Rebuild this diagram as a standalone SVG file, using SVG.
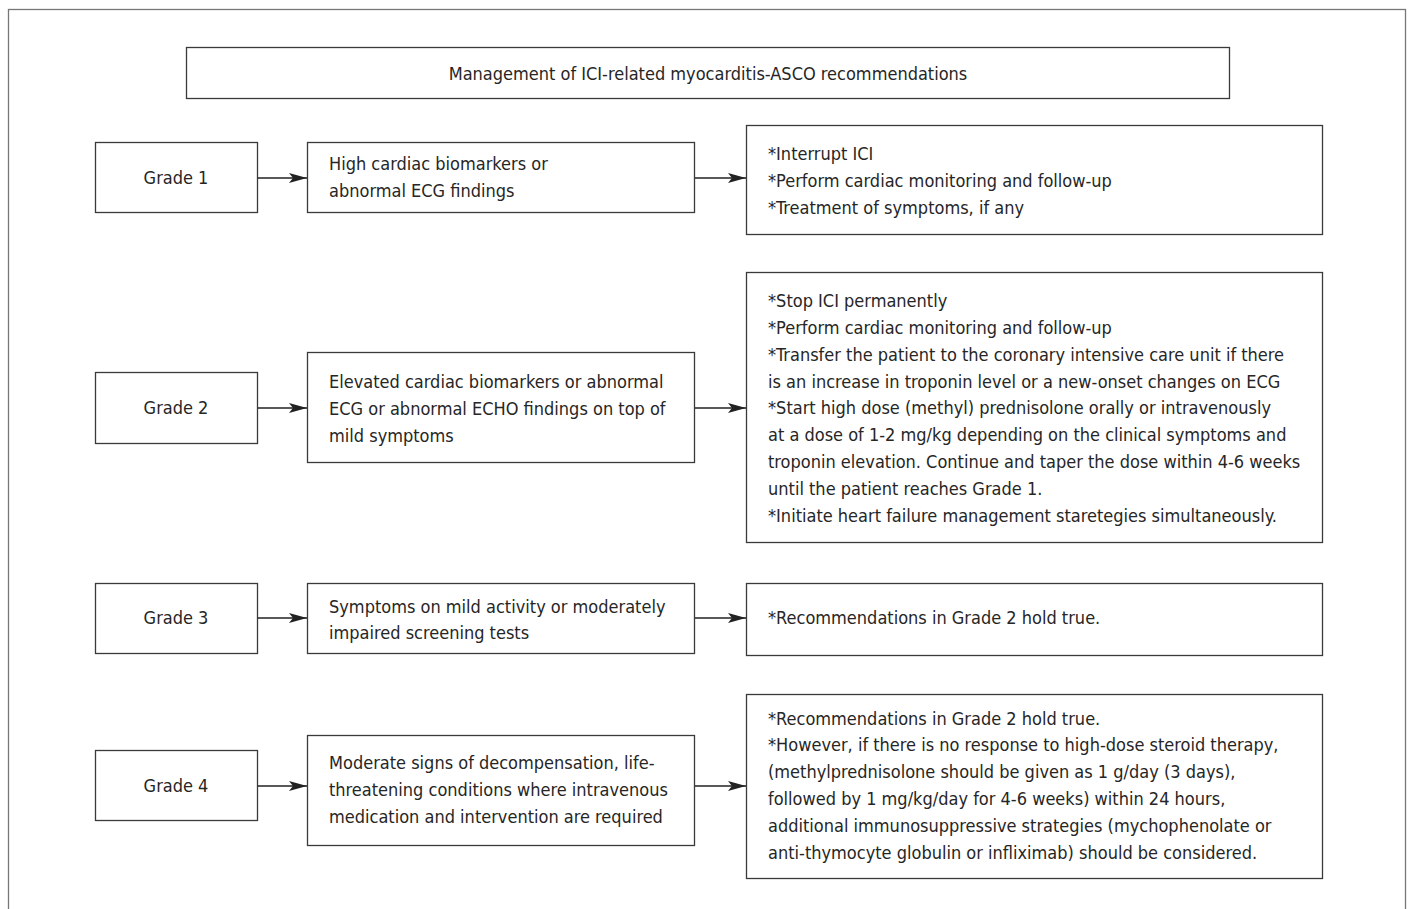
<svg xmlns="http://www.w3.org/2000/svg" width="1412" height="909" viewBox="0 0 1412 909">
<style>
.b{fill:#fff;stroke:#3a3a3a;stroke-width:1.3}
.t{font-family:"Liberation Sans Narrow","DejaVu Sans Condensed","Liberation Sans",sans-serif;font-size:18px;fill:#262626}
.c{text-anchor:middle}
.e{stroke:#222;stroke-width:1.3;fill:none;marker-end:url(#ah)}
</style>
<defs>
<marker id="ah" markerUnits="userSpaceOnUse" markerWidth="20" markerHeight="12" refX="18" refY="5" orient="auto">
<path d="M0,0 L18,5 L0,10 L4,5 Z" fill="#222"/>
</marker>
</defs>
<rect x="0" y="0" width="1412" height="909" fill="#fff"/>
<rect x="8.5" y="9.5" width="1397" height="920" fill="none" stroke="#777" stroke-width="1.3"/>
<g id="title"><rect class="b" x="186.5" y="47.5" width="1043" height="51"/><text class="t c" x="708" y="80">Management of ICI-related myocarditis-ASCO recommendations</text></g>

<g id="grade1"><rect class="b" x="95.5" y="142.5" width="162" height="70"/><text class="t c" x="176" y="184">Grade 1</text></g>
<g id="cond1"><rect class="b" x="307.5" y="142.5" width="387" height="70"/><text class="t" x="329" y="170">High cardiac biomarkers or</text><text class="t" x="329" y="197">abnormal ECG findings</text></g>
<g id="rec1"><rect class="b" x="746.5" y="125.5" width="576" height="109"/>
<text class="t" x="768" y="160">*Interrupt ICI</text>
<text class="t" x="768" y="187">*Perform cardiac monitoring and follow-up</text>
<text class="t" x="768" y="214">*Treatment of symptoms, if any</text></g>

<g id="grade2"><rect class="b" x="95.5" y="372.5" width="162" height="71"/><text class="t c" x="176" y="414">Grade 2</text></g>
<g id="cond2"><rect class="b" x="307.5" y="352.5" width="387" height="110"/>
<text class="t" x="329" y="388">Elevated cardiac biomarkers or abnormal</text>
<text class="t" x="329" y="415">ECG or abnormal ECHO findings on top of</text>
<text class="t" x="329" y="442">mild symptoms</text></g>
<g id="rec2"><rect class="b" x="746.5" y="272.5" width="576" height="270"/>
<text class="t" x="768" y="307">*Stop ICI permanently</text>
<text class="t" x="768" y="334">*Perform cardiac monitoring and follow-up</text>
<text class="t" x="768" y="361">*Transfer the patient to the coronary intensive care unit if there</text>
<text class="t" x="768" y="388">is an increase in troponin level or a new-onset changes on ECG</text>
<text class="t" x="768" y="414">*Start high dose (methyl) prednisolone orally or intravenously</text>
<text class="t" x="768" y="441">at a dose of 1-2 mg/kg depending on the clinical symptoms and</text>
<text class="t" x="768" y="468">troponin elevation. Continue and taper the dose within 4-6 weeks</text>
<text class="t" x="768" y="495">until the patient reaches Grade 1.</text>
<text class="t" x="768" y="522">*Initiate heart failure management staretegies simultaneously.</text></g>

<g id="grade3"><rect class="b" x="95.5" y="583.5" width="162" height="70"/><text class="t c" x="176" y="624">Grade 3</text></g>
<g id="cond3"><rect class="b" x="307.5" y="583.5" width="387" height="70"/>
<text class="t" x="329" y="613">Symptoms on mild activity or moderately</text>
<text class="t" x="329" y="639">impaired screening tests</text></g>
<g id="rec3"><rect class="b" x="746.5" y="583.5" width="576" height="72"/>
<text class="t" x="768" y="624">*Recommendations in Grade 2 hold true.</text></g>

<g id="grade4"><rect class="b" x="95.5" y="750.5" width="162" height="70"/><text class="t c" x="176" y="792">Grade 4</text></g>
<g id="cond4"><rect class="b" x="307.5" y="735.5" width="387" height="110"/>
<text class="t" x="329" y="769">Moderate signs of decompensation, life-</text>
<text class="t" x="329" y="796">threatening conditions where intravenous</text>
<text class="t" x="329" y="823">medication and intervention are required</text></g>
<g id="rec4"><rect class="b" x="746.5" y="694.5" width="576" height="184"/>
<text class="t" x="768" y="725">*Recommendations in Grade 2 hold true.</text>
<text class="t" x="768" y="751">*However, if there is no response to high-dose steroid therapy,</text>
<text class="t" x="768" y="778">(methylprednisolone should be given as 1 g/day (3 days),</text>
<text class="t" x="768" y="805">followed by 1 mg/kg/day for 4-6 weeks) within 24 hours,</text>
<text class="t" x="768" y="832">additional immunosuppressive strategies (mychophenolate or</text>
<text class="t" x="768" y="859">anti-thymocyte globulin or infliximab) should be considered.</text></g>

<g id="connectors">
<line class="e" x1="258" y1="178" x2="307" y2="178"/>
<line class="e" x1="695" y1="178" x2="746" y2="178"/>
<line class="e" x1="258" y1="408" x2="307" y2="408"/>
<line class="e" x1="695" y1="408" x2="746" y2="408"/>
<line class="e" x1="258" y1="618" x2="307" y2="618"/>
<line class="e" x1="695" y1="618" x2="746" y2="618"/>
<line class="e" x1="258" y1="786" x2="307" y2="786"/>
<line class="e" x1="695" y1="786" x2="746" y2="786"/>
</g>
</svg>
